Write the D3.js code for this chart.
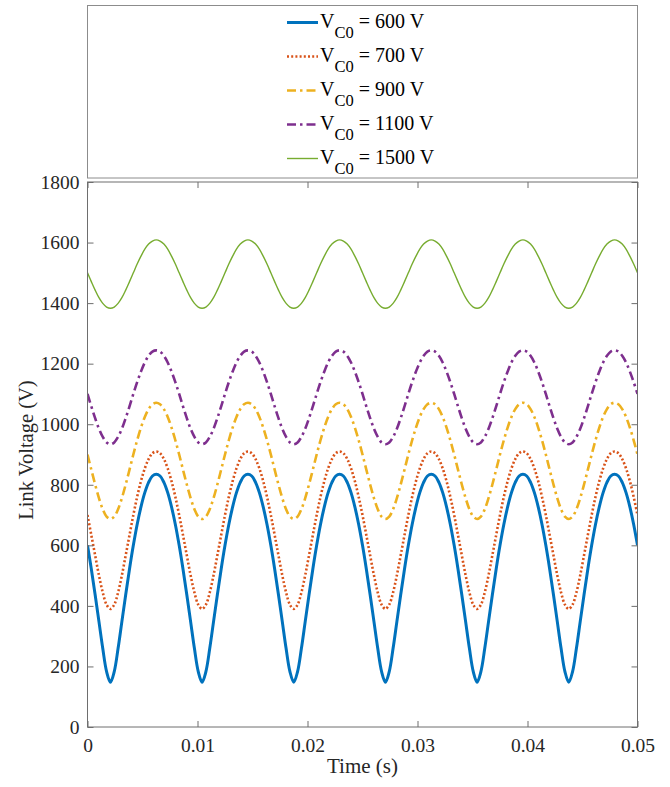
<!DOCTYPE html>
<html>
<head>
<meta charset="utf-8">
<script src="https://cdn.jsdelivr.net/npm/d3@7"></script>
<style>
  html, body { margin: 0; padding: 0; background: #fff; }
  svg { display: block; font-family: "Liberation Serif", "Times New Roman", serif; }
</style>
</head>
<body>
<svg id="chart" width="670" height="787"></svg>
<script>
// Link voltage waveforms sampled every 1/2880 s (24 samples per 120 Hz ripple period)
const timeStep = 0.05 / 144;
const time = d3.range(145).map(i => i * timeStep);

const v600 = [
  600,522,437,348,259,183,148,183,259,348,437,522,600,669,727,774,808,829,835,829,808,774,727,669,
  600,522,437,348,259,183,148,183,259,348,437,522,600,669,727,774,808,829,835,829,808,774,727,669,
  600,522,437,348,259,183,148,183,259,348,437,522,600,669,727,774,808,829,835,829,808,774,727,669,
  600,522,437,348,259,183,148,183,259,348,437,522,600,669,727,774,808,829,835,829,808,774,727,669,
  600,522,437,348,259,183,148,183,259,348,437,522,600,669,727,774,808,829,835,829,808,774,727,669,
  600,522,437,348,259,183,148,183,259,348,437,522,600,669,727,774,808,829,835,829,808,774,727,669,
  600];
const v700 = [
  700,634,567,501,444,404,390,404,444,501,567,634,700,760,812,854,885,904,910,904,885,854,812,760,
  700,634,567,501,444,404,390,404,444,501,567,634,700,760,812,854,885,904,910,904,885,854,812,760,
  700,634,567,501,444,404,390,404,444,501,567,634,700,760,812,854,885,904,910,904,885,854,812,760,
  700,634,567,501,444,404,390,404,444,501,567,634,700,760,812,854,885,904,910,904,885,854,812,760,
  700,634,567,501,444,404,390,404,444,501,567,634,700,760,812,854,885,904,910,904,885,854,812,760,
  700,634,567,501,444,404,390,404,444,501,567,634,700,760,812,854,885,904,910,904,885,854,812,760,
  700];
const v900 = [
  900,850,801,756,719,695,687,695,719,756,801,850,900,947,989,1024,1050,1066,1071,1066,1050,1024,989,947,
  900,850,801,756,719,695,687,695,719,756,801,850,900,947,989,1024,1050,1066,1071,1066,1050,1024,989,947,
  900,850,801,756,719,695,687,695,719,756,801,850,900,947,989,1024,1050,1066,1071,1066,1050,1024,989,947,
  900,850,801,756,719,695,687,695,719,756,801,850,900,947,989,1024,1050,1066,1071,1066,1050,1024,989,947,
  900,850,801,756,719,695,687,695,719,756,801,850,900,947,989,1024,1050,1066,1071,1066,1050,1024,989,947,
  900,850,801,756,719,695,687,695,719,756,801,850,900,947,989,1024,1050,1066,1071,1066,1050,1024,989,947,
  900];
const v1100 = [
  1100,1059,1020,985,958,940,934,940,958,985,1020,1059,1100,1139,1174,1204,1226,1240,1244,1240,1226,1204,1174,1139,
  1100,1059,1020,985,958,940,934,940,958,985,1020,1059,1100,1139,1174,1204,1226,1240,1244,1240,1226,1204,1174,1139,
  1100,1059,1020,985,958,940,934,940,958,985,1020,1059,1100,1139,1174,1204,1226,1240,1244,1240,1226,1204,1174,1139,
  1100,1059,1020,985,958,940,934,940,958,985,1020,1059,1100,1139,1174,1204,1226,1240,1244,1240,1226,1204,1174,1139,
  1100,1059,1020,985,958,940,934,940,958,985,1020,1059,1100,1139,1174,1204,1226,1240,1244,1240,1226,1204,1174,1139,
  1100,1059,1020,985,958,940,934,940,958,985,1020,1059,1100,1139,1174,1204,1226,1240,1244,1240,1226,1204,1174,1139,
  1100];
const v1500 = [
  1500,1471,1443,1418,1399,1387,1383,1387,1399,1418,1443,1471,1500,1529,1555,1578,1595,1605,1609,1605,1595,1578,1555,1529,
  1500,1471,1443,1418,1399,1387,1383,1387,1399,1418,1443,1471,1500,1529,1555,1578,1595,1605,1609,1605,1595,1578,1555,1529,
  1500,1471,1443,1418,1399,1387,1383,1387,1399,1418,1443,1471,1500,1529,1555,1578,1595,1605,1609,1605,1595,1578,1555,1529,
  1500,1471,1443,1418,1399,1387,1383,1387,1399,1418,1443,1471,1500,1529,1555,1578,1595,1605,1609,1605,1595,1578,1555,1529,
  1500,1471,1443,1418,1399,1387,1383,1387,1399,1418,1443,1471,1500,1529,1555,1578,1595,1605,1609,1605,1595,1578,1555,1529,
  1500,1471,1443,1418,1399,1387,1383,1387,1399,1418,1443,1471,1500,1529,1555,1578,1595,1605,1609,1605,1595,1578,1555,1529,
  1500];

const seriesLabels = ["600", "700", "900", "1100", "1500"];
const xTicks = [0, 0.01, 0.02, 0.03, 0.04, 0.05];
const xTickLabels = ["0", "0.01", "0.02", "0.03", "0.04", "0.05"];
const yTicks = [0, 200, 400, 600, 800, 1000, 1200, 1400, 1600, 1800];

const seriesStyles = [
  { values: v600,  color: "#0072BD", width: 3.0, dash: null },
  { values: v700,  color: "#D95319", width: 2.6, dash: "2,2.2" },
  { values: v900,  color: "#EDB120", width: 2.6, dash: "9,4,2.5,4" },
  { values: v1100, color: "#7E2F8E", width: 2.6, dash: "9,4,2.5,4" },
  { values: v1500, color: "#77AC30", width: 1.4, dash: null }
];

const svg = d3.select("#chart");
const plot = { left: 87.5, right: 637.5, top: 182, bottom: 727 };
const axisColor = "#6e6e6e";
const fontStack = '"Liberation Serif", "Times New Roman", serif';

const x = d3.scaleLinear().domain([0, 0.05]).range([plot.left, plot.right]);
const y = d3.scaleLinear().domain([0, 1800]).range([plot.bottom, plot.top]);

// Clip the traces to the axes box
svg.append("defs").append("clipPath").attr("id", "plotClip")
  .append("rect")
  .attr("x", plot.left).attr("y", plot.top)
  .attr("width", plot.right - plot.left).attr("height", plot.bottom - plot.top);

const line = d3.line()
  .x((d, i) => x(time[i]))
  .y(d => y(d))
  .curve(d3.curveCatmullRom.alpha(0.5));

const traces = svg.append("g").attr("clip-path", "url(#plotClip)");
seriesStyles.forEach(s => {
  traces.append("path")
    .datum(s.values)
    .attr("fill", "none")
    .attr("stroke", s.color)
    .attr("stroke-width", s.width)
    .attr("stroke-dasharray", s.dash)
    .attr("stroke-linejoin", "round")
    .attr("d", line);
});

// Axes with inward ticks on all four sides
const tickLen = 6;
const bottomAxis = d3.axisBottom(x).tickValues(xTicks)
  .tickFormat((d, i) => xTickLabels[i]).tickSizeInner(-tickLen).tickSizeOuter(0).tickPadding(11);
const topAxis = d3.axisTop(x).tickValues(xTicks).tickFormat("").tickSizeInner(-tickLen).tickSizeOuter(0);
const leftAxis = d3.axisLeft(y).tickValues(yTicks).tickFormat(d3.format("d"))
  .tickSizeInner(-tickLen).tickSizeOuter(0).tickPadding(8);
const rightAxis = d3.axisRight(y).tickValues(yTicks).tickFormat("").tickSizeInner(-tickLen).tickSizeOuter(0);

function styleAxis(g) {
  g.attr("font-family", null).attr("font-size", null);
  g.select(".domain").remove();
  g.selectAll(".tick line").attr("stroke", axisColor).attr("stroke-width", 1);
  g.selectAll(".tick text")
    .attr("fill", "#262626")
    .style("font-family", fontStack)
    .style("font-size", "19.5px");
}

svg.append("g").attr("transform", `translate(0,${plot.bottom})`).call(bottomAxis).call(styleAxis);
svg.append("g").attr("transform", `translate(0,${plot.top})`).call(topAxis).call(styleAxis);
svg.append("g").attr("transform", `translate(${plot.left},0)`).call(leftAxis).call(styleAxis);
svg.append("g").attr("transform", `translate(${plot.right},0)`).call(rightAxis).call(styleAxis);

svg.append("rect")
  .attr("x", plot.left).attr("y", plot.top)
  .attr("width", plot.right - plot.left).attr("height", plot.bottom - plot.top)
  .attr("fill", "none").attr("stroke", axisColor).attr("stroke-width", 1);

// Axis titles
svg.append("text")
  .attr("x", (plot.left + plot.right) / 2).attr("y", 773)
  .attr("text-anchor", "middle")
  .attr("fill", "#262626")
  .style("font-size", "21px")
  .text("Time (s)");

svg.append("text")
  .attr("transform", "translate(33,450) rotate(-90)")
  .attr("text-anchor", "middle")
  .attr("fill", "#262626")
  .style("font-size", "20.5px")
  .text("Link Voltage (V)");

// Legend box above the axes
const legend = svg.append("g");
legend.append("rect")
  .attr("x", plot.left).attr("y", 5.5)
  .attr("width", plot.right - plot.left).attr("height", 172.5)
  .attr("fill", "#fff").attr("stroke", "#8c8c8c").attr("stroke-width", 1);

const legendTop = 22.5, legendStep = 34;
seriesStyles.forEach((s, i) => {
  const ly = legendTop + i * legendStep;
  legend.append("line")
    .attr("x1", 287).attr("x2", 318)
    .attr("y1", ly).attr("y2", ly)
    .attr("stroke", s.color)
    .attr("stroke-width", s.width)
    .attr("stroke-dasharray", s.dash);
  const t = legend.append("text")
    .attr("x", 320).attr("y", ly + 5.5)
    .attr("fill", "#000")
    .style("font-size", "20px");
  t.append("tspan").text("V");
  t.append("tspan").attr("dy", 9.5).style("font-size", "16.5px").text("C0");
  t.append("tspan").attr("dy", -9.5).text(" = " + seriesLabels[i] + " V");
});
</script>
</body>
</html>
